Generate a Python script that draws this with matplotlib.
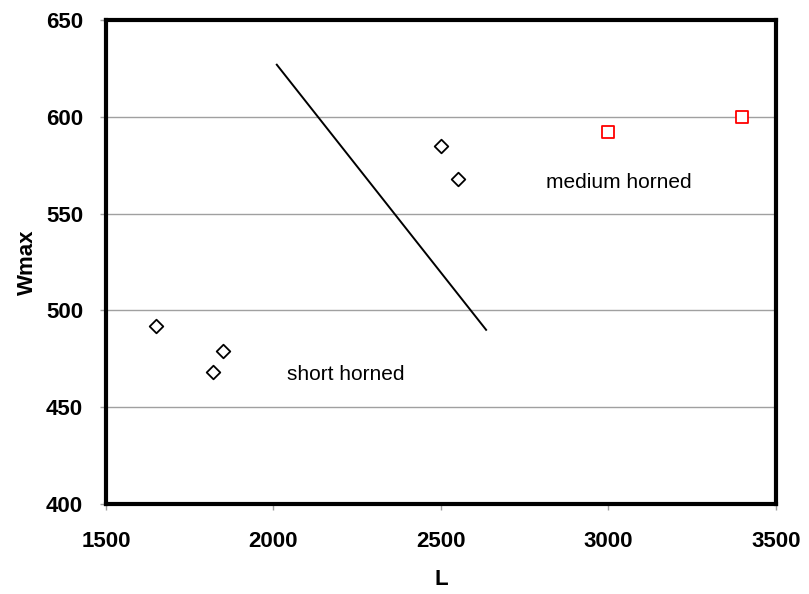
import matplotlib
matplotlib.use("Agg")
import matplotlib.pyplot as plt

plt.rcParams['font.family'] = ['Liberation Sans', 'DejaVu Sans']

short_L = [1650, 1820, 1850, 2500, 2550]
short_W = [492, 468, 479, 585, 568]
medium_L = [3000, 3400]
medium_W = [592, 600]
line_L = [2010, 2635]
line_W = [627, 490]

fig = plt.figure(figsize=(8.09, 5.94), dpi=100)
ax = fig.add_axes([0.131, 0.1515, 0.828, 0.8145])

ax.set_xlim(1500, 3500)
ax.set_ylim(400, 650)
ax.set_xticks([1500, 2000, 2500, 3000, 3500])
ax.set_yticks([400, 450, 500, 550, 600, 650])
ax.yaxis.grid(True, color='#a0a0a0', linewidth=1)
ax.set_axisbelow(True)

ax.plot(line_L, line_W, color='black', linewidth=1.4)
ax.scatter(short_L, short_W, marker='D', s=48, facecolors='white', edgecolors='black', linewidths=1.3, zorder=3)
ax.scatter(medium_L, medium_W, marker='s', s=80, facecolors='white', edgecolors='#ff0000', linewidths=1.3, zorder=3)

ax.text(2040, 467, 'short horned', fontsize=15, va='center', ha='left')
ax.text(2815, 566, 'medium horned', fontsize=15, va='center', ha='left')

for s in ax.spines.values():
    s.set_linewidth(3)
    s.set_color('black')

ax.tick_params(axis='both', direction='out', length=4.5, width=1, color='#a0a0a0', labelsize=16)
ax.tick_params(axis='y', pad=12)
ax.tick_params(axis='x', pad=15)
for lab in ax.get_xticklabels() + ax.get_yticklabels():
    lab.set_fontweight('bold')

ax.set_xlabel('L', fontsize=16, fontweight='bold', labelpad=12)
ax.set_ylabel('Wmax', fontsize=16, fontweight='bold', labelpad=6)

fig.savefig('out.png', dpi=100)
